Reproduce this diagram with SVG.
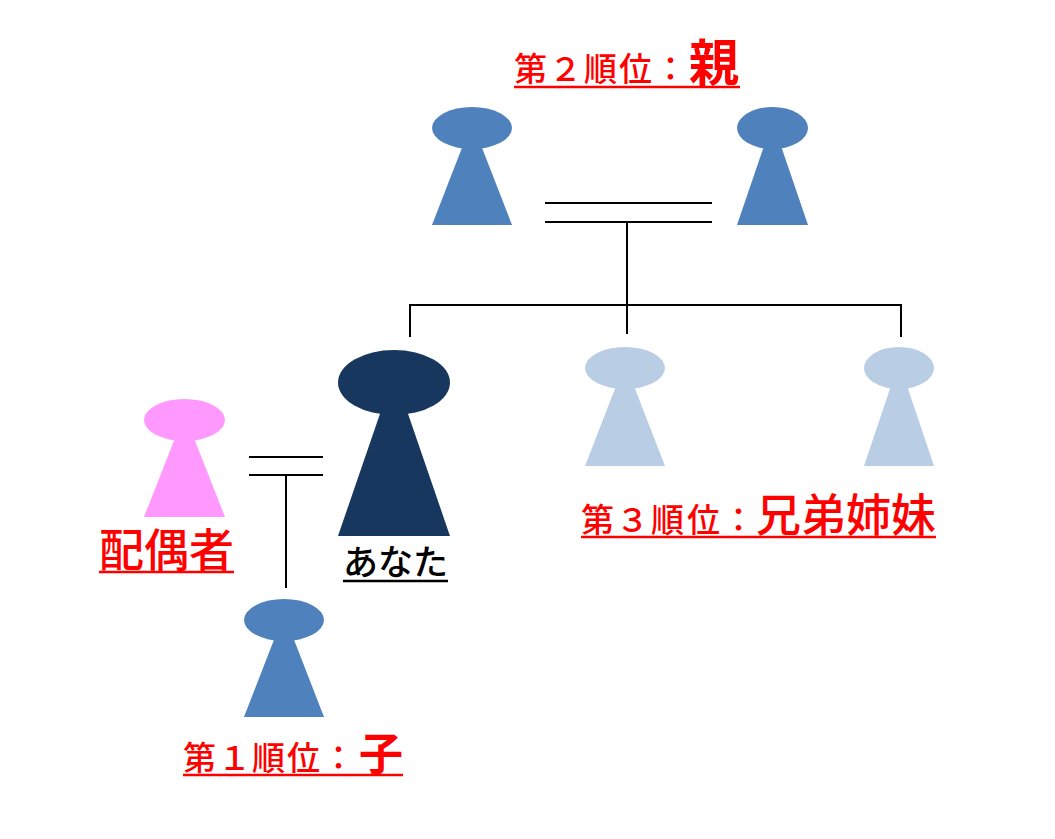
<svg xmlns="http://www.w3.org/2000/svg" width="1055" height="839" viewBox="0 0 1055 839">
<style>
.c{fill:none;stroke:#000;stroke-width:2}
.t{font-family:"Noto Sans CJK JP","Noto Sans CJK SC",sans-serif;font-weight:500}
.r{fill:#f00}
.u{stroke:#f00;stroke-width:2.5}
.blue{fill:#4f81bd}
.pale{fill:#b9cde5}
.dark{fill:#17375e}
.pink{fill:#ff99ff}
</style>
<rect width="1055" height="839" fill="#fff"/>
<g id="connectors">
<path class="c" d="M545 203H712M545 222H712M627 222V334M410 337V305H901V337"/>
<path class="c" d="M249 457H323M249 475H323M286 475V588"/>
</g>
<g id="parent-left" class="blue"><ellipse cx="472" cy="128" rx="40" ry="21"/><polygon points="472,122 512,225 432,225"/></g>
<g id="parent-right" class="blue"><ellipse cx="772.500" cy="128" rx="35.500" ry="21"/><polygon points="772.500,121 808,225 737,225"/></g>
<g id="sibling-left" class="pale"><ellipse cx="625" cy="368" rx="40" ry="21"/><polygon points="625,363 665,466 585,466"/></g>
<g id="sibling-right" class="pale"><ellipse cx="899" cy="368" rx="35" ry="21"/><polygon points="899,362 934,466 864,466"/></g>
<g id="you" class="dark"><ellipse cx="394" cy="382.500" rx="56" ry="32.500"/><polygon points="394,373 450,536 338,536"/></g>
<g id="spouse" class="pink"><ellipse cx="184.500" cy="420" rx="40.500" ry="21"/><polygon points="184.500,414 225,517 144,517"/></g>
<g id="child" class="blue"><ellipse cx="284" cy="620" rx="40" ry="21"/><polygon points="284,614 324,717 244,717"/></g>
<g id="label-parent">
<text class="t r" y="81" font-size="33" x="514 549 584 619 654">第２順位：<tspan x="689" font-size="50" font-weight="700">親</tspan></text>
<line class="u" x1="514" y1="87" x2="740" y2="87"/>
</g>
<g id="label-sibling">
<text class="t r" y="532" font-size="33" x="581 616 651 687 722">第３順位：<tspan x="756 801 846 891" font-size="45">兄弟姉妹</tspan></text>
<line class="u" x1="581" y1="537" x2="936" y2="537"/>
</g>
<g id="label-spouse">
<text class="t r" y="567" font-size="45" x="99 144 189">配偶者</text>
<line class="u" x1="99" y1="572" x2="234" y2="572"/>
</g>
<g id="label-you">
<text class="t" x="343" y="575" font-size="35" font-weight="400" fill="#000">あなた</text>
<line stroke="#000" stroke-width="2.500" x1="343" y1="581" x2="448" y2="581"/>
</g>
<g id="label-child">
<text class="t r" y="770" font-size="33" x="183 218 252 287 322">第１順位：<tspan x="359" font-size="44" font-weight="700">子</tspan></text>
<line class="u" x1="183" y1="775" x2="403" y2="775"/>
</g>
</svg>
